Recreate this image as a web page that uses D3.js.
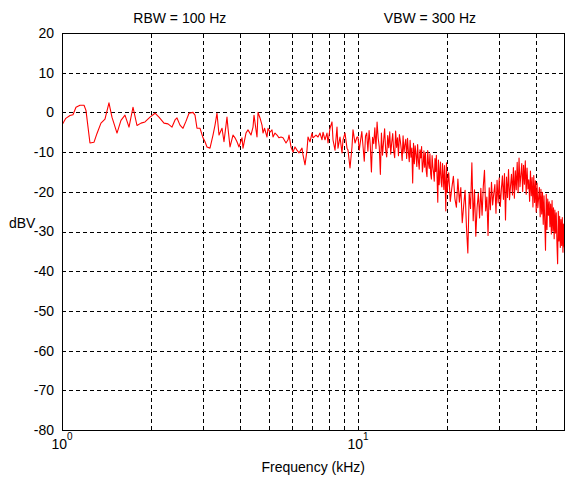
<!DOCTYPE html>
<html><head><meta charset="utf-8">
<script src="https://cdn.jsdelivr.net/npm/d3@7"></script>
<style>
body{margin:0;background:#fff}
svg{display:block;background:#fff}
text{font-family:"Liberation Sans",Arial,sans-serif;font-size:14px;fill:#000}
</style>
</head><body><svg id="c" width="566" height="478"></svg>
<script>
const titles = ["RBW = 100 Hz", "VBW = 300 Hz"];
const titleFreqs = [2.5, 17.5];
const xLabel = "Frequency (kHz)";
const yLabel = "dBV";
const yTicks = [20, 10, 0, -10, -20, -30, -40, -50, -60, -70, -80];
const yGrid = [10, 0, -10, -20, -30, -40, -50, -60, -70];
const xGrid = [2, 3, 4, 5, 6, 7, 8, 9, 10, 20, 30, 40];
const xTickValues = [1, 10];
const xTickBases = ["10", "10"];
const xTickExps = ["0", "1"];

const freqLow = [1.000,1.030,1.064,1.089,1.115,1.150,1.187,1.205,1.243,1.283,
1.313,1.354,1.397,1.441,1.475,1.534,1.582,1.632,1.684,1.737,
1.792,1.849,1.907,1.983,2.062,2.126,2.211,2.281,2.353,2.409,
2.446,2.504,2.563,2.624,2.686,2.771,2.814,2.858,2.926,2.995,
3.042,3.089,3.162,3.237,3.288,3.339,3.392,3.472,3.526,3.609,
3.638,3.695,3.782,3.841,3.901,3.963,4.056,4.088,4.184,4.250,
4.350,4.419,4.453,4.558,4.594,4.666,4.739,4.776,4.835,4.927,
4.965,5.043,5.122,5.162,5.243,5.326,5.409,5.494,5.580,5.712,
5.801,5.847,5.938,6.031,6.126,6.222,6.320,6.469,6.519,6.622,
6.725,6.778,6.884,6.992,7.047,7.213,7.326,7.441,7.558,7.617,
7.736,7.857,7.919,8.043,8.169,8.233,8.362,8.493,8.559,8.694,
8.830,8.899,9.038,9.180,9.252,9.397,9.544,9.619,9.770,9.923];
const dbLow = [-3.2,-1.5,-0.8,-0.6,1.3,1.8,1.8,0.5,-7.7,-7.5,
-5.3,-2.7,-1.7,2.4,-1.2,-5.2,-2.0,-0.7,-3.7,1.3,
-3.3,-2.7,-2.4,-1.2,-0.2,-1.2,-2.7,-2.9,-3.7,-1.9,
-1.4,-3.2,-4.0,-2.2,-0.2,0.0,-0.7,-4.0,-4.0,-6.4,
-7.4,-8.7,-9.0,-5.7,-3.2,-0.2,-5.7,-4.0,-7.4,-1.2,
-4.0,-8.7,-5.7,-6.4,-7.4,-8.7,-6.4,-9.0,-5.2,-4.4,
-5.7,-3.7,-0.7,-6.2,0.0,-1.4,-3.2,-5.2,-4.0,-6.2,
-4.0,-5.0,-4.4,-6.2,-5.2,-5.7,-6.4,-6.2,-6.4,-7.7,
-6.9,-5.7,-8.7,-10.0,-8.7,-9.5,-10.2,-9.0,-10.7,-13.2,
-9.5,-6.2,-7.4,-5.2,-6.4,-5.7,-6.2,-5.2,-6.9,-5.0,
-6.9,-5.2,-7.7,-4.0,-2.4,-6.9,-9.5,-3.7,-9.0,-6.2,
-10.2,-6.9,-5.2,-9.0,-9.5,-14.0,-8.7,-4.4,-7.7,-6.2];

const freqMid = [10.0,10.1,10.2,10.3,10.4,10.5,10.6,10.7,10.8,10.9,
11.0,11.1,11.2,11.3,11.4,11.5,11.6,11.7,11.8,11.9,
12.0,12.1,12.2,12.3,12.4,12.5,12.6,12.7,12.8,12.9,
13.0,13.1,13.2,13.3,13.4,13.5,13.6,13.7,13.8,13.9,
14.0,14.1,14.2,14.3,14.4,14.5,14.6,14.7,14.8,14.9,
15.0,15.1,15.2,15.3,15.4,15.5,15.6,15.7,15.8,15.9,
16.0,16.1,16.2,16.3,16.4,16.5,16.6,16.7,16.8,16.9,
17.0,17.1,17.2,17.3,17.4,17.5,17.6,17.7,17.8,17.9,
18.0,18.1,18.2,18.3,18.4,18.5,18.6,18.7,18.8,18.9,
19.0,19.1,19.2,19.3,19.4,19.5,19.6,19.7,19.8,19.9,
20.0];
const dbMid = [-6.2,-9.5,-7.1,-4.8,-8.6,-12.3,-6.0,-5.2,-9.8,-4.6,
-8.2,-15.0,-6.3,-7.9,-3.9,-9.1,-2.4,-6.5,-8.7,-15.6,
-5.2,-10.8,-7.4,-4.1,-9.4,-11.2,-5.8,-8.9,-4.9,-10.5,
-7.6,-5.3,-9.7,-11.4,-4.7,-8.8,-6.4,-10.9,-5.6,-7.2,
-9.3,-12.1,-5.9,-10.2,-8.1,-6.8,-11.6,-6.5,-9.9,-12.4,
-7.0,-11.3,-9.0,-17.8,-7.8,-12.9,-8.4,-10.6,-13.6,-8.1,
-12.2,-14.3,-9.4,-11.5,-8.6,-15.0,-13.1,-9.7,-13.8,-10.1,
-14.7,-16.2,-9.6,-12.8,-14.1,-10.4,-15.5,-16.8,-10.9,-13.7,
-15.1,-17.3,-11.6,-14.9,-10.8,-16.4,-22.6,-12.0,-18.2,-15.3,
-12.5,-17.6,-18.8,-12.9,-16.0,-19.4,-13.4,-17.9,-24.8,-12.7,
-20.1];

const freqHigh = [20.25,20.5,20.75,21.0,21.25,21.5,21.75,22.0,
22.25,22.5,22.75,23.0,23.25,23.5,23.75,24.0,
24.25,24.5,24.75,25.0,25.25,25.5,25.75,26.0,
26.25,26.5,26.75,27.0,27.25,27.5,27.75,28.0,
28.25,28.5,28.75,29.0,29.25,29.5,29.75,30.0,
30.25,30.5,30.75,31.0,31.25,31.5,31.75,32.0,
32.25,32.5,32.75,33.0,33.25,33.5,33.75,34.0,
34.25,34.5,34.75,35.0,35.25,35.5,35.75,36.0,
36.25,36.5,36.75,37.0,37.25,37.5,37.75,38.0,
38.25,38.5,38.75,39.0,39.25,39.5,39.75,40.0,
40.25,40.5,40.75,41.0,41.25,41.5,41.75,42.0,
42.25,42.5,42.75,43.0,43.25,43.5,43.75,44.0,
44.25,44.5,44.75,45.0,45.25,45.5,45.75,46.0,
46.25,46.5,46.75,47.0,47.25,47.5,47.75,48.0,
48.25,48.5,48.75,49.0,49.25,49.5,49.75,50.0];
const dbHigh = [-15.2,-22.4,-19.0,-16.1,-21.7,-23.9,-16.8,-22.6,
-18.9,-27.8,-23.5,-19.6,-28.9,-35.4,-20.3,-24.2,
-12.7,-27.3,-19.5,-31.2,-24.0,-20.4,-26.6,-19.1,
-25.9,-18.7,-14.6,-24.8,-21.3,-31.0,-19.0,-24.5,
-17.6,-23.3,-20.5,-18.2,-25.4,-17.1,-22.8,-16.5,
-23.7,-19.4,-16.0,-21.9,-15.4,-27.1,-16.3,-21.4,
-14.4,-22.0,-18.6,-15.6,-20.8,-13.9,-21.6,-14.7,
-19.5,-12.6,-20.2,-11.5,-18.7,-15.8,-12.9,-19.9,
-13.3,-18.1,-12.2,-20.6,-14.0,-19.3,-17.0,-22.4,
-14.8,-21.0,-16.4,-23.8,-15.9,-22.7,-17.2,-25.1,
-17.8,-24.0,-21.6,-18.9,-26.3,-19.4,-25.6,-20.1,
-28.2,-21.0,-27.4,-34.7,-20.6,-29.5,-21.8,-25.9,
-22.5,-28.8,-23.1,-30.6,-22.2,-29.9,-24.0,-31.8,
-24.6,-30.4,-25.3,-33.1,-38.1,-24.9,-32.4,-26.2,
-34.0,-27.0,-33.5,-26.5,-35.2,-28.1,-33.9,-31.0];

const freq = freqLow.concat(freqMid, freqHigh);
const dbv = dbLow.concat(dbMid, dbHigh);
const data = freq.map((f, i) => ({f: f, v: dbv[i]}));

const svg = d3.select("#c");
const L = 62, R = 564.5, T = 33, B = 430;
const x = d3.scaleLog().domain([1, 50]).range([L, L + 296 * Math.log10(50)]);
const y = d3.scaleLinear().domain([-80, 20]).range([B, T]);

// grid
const gx = svg.append("g").attr("transform", `translate(0,${B})`)
  .call(d3.axisBottom(x).tickValues(xGrid).tickSize(-(B - T)).tickFormat(""));
gx.select(".domain").remove();
gx.selectAll("line").attr("stroke", "#000").attr("stroke-dasharray", "4,3")
  .attr("shape-rendering", "crispEdges");

const gy = svg.append("g").attr("transform", `translate(${L},0)`)
  .call(d3.axisLeft(y).tickValues(yGrid).tickSize(-(R - L)).tickFormat(""));
gy.select(".domain").remove();
gy.selectAll("line").attr("stroke", "#000").attr("stroke-dasharray", "4,3")
  .attr("shape-rendering", "crispEdges");

// trace
svg.append("clipPath").attr("id", "clip").append("rect")
  .attr("x", L).attr("y", T).attr("width", R - L).attr("height", B - T);
svg.append("path").datum(data)
  .attr("clip-path", "url(#clip)")
  .attr("fill", "none").attr("stroke", "#ff0000").attr("stroke-width", 1.1)
  .attr("stroke-linejoin", "round")
  .attr("d", d3.line().x(d => x(d.f)).y(d => y(d.v)));

// frame
svg.append("rect").attr("x", L).attr("y", T + 0.5).attr("width", R - L).attr("height", B - T)
  .attr("fill", "none").attr("stroke", "#000").attr("stroke-width", 1)
  .attr("shape-rendering", "crispEdges");

// y tick labels
const ya = svg.append("g").attr("transform", `translate(${L},0)`)
  .call(d3.axisLeft(y).tickValues(yTicks).tickSize(0).tickPadding(8).tickFormat(d => String(d)));
ya.select(".domain").remove();
ya.selectAll("text").style("font-size", "14px").style("font-family", '"Liberation Sans",Arial,sans-serif');

// x tick labels (10^n)
const xl = svg.append("g");
xTickValues.forEach((v, i) => {
  const t = xl.append("text").attr("x", x(v)).attr("y", 449).attr("text-anchor", "middle");
  t.append("tspan").text(xTickBases[i]);
  t.append("tspan").attr("dy", -9).style("font-size", "10px").text(xTickExps[i]);
});

// titles
titles.forEach((s, i) => {
  svg.append("text").attr("x", x(titleFreqs[i])).attr("y", 23)
    .attr("text-anchor", "middle").text(s);
});

svg.append("text").attr("x", (L + R) / 2).attr("y", 472).attr("text-anchor", "middle").text(xLabel);
svg.append("text").attr("x", 9).attr("y", 228).text(yLabel);
</script>
</body></html>
